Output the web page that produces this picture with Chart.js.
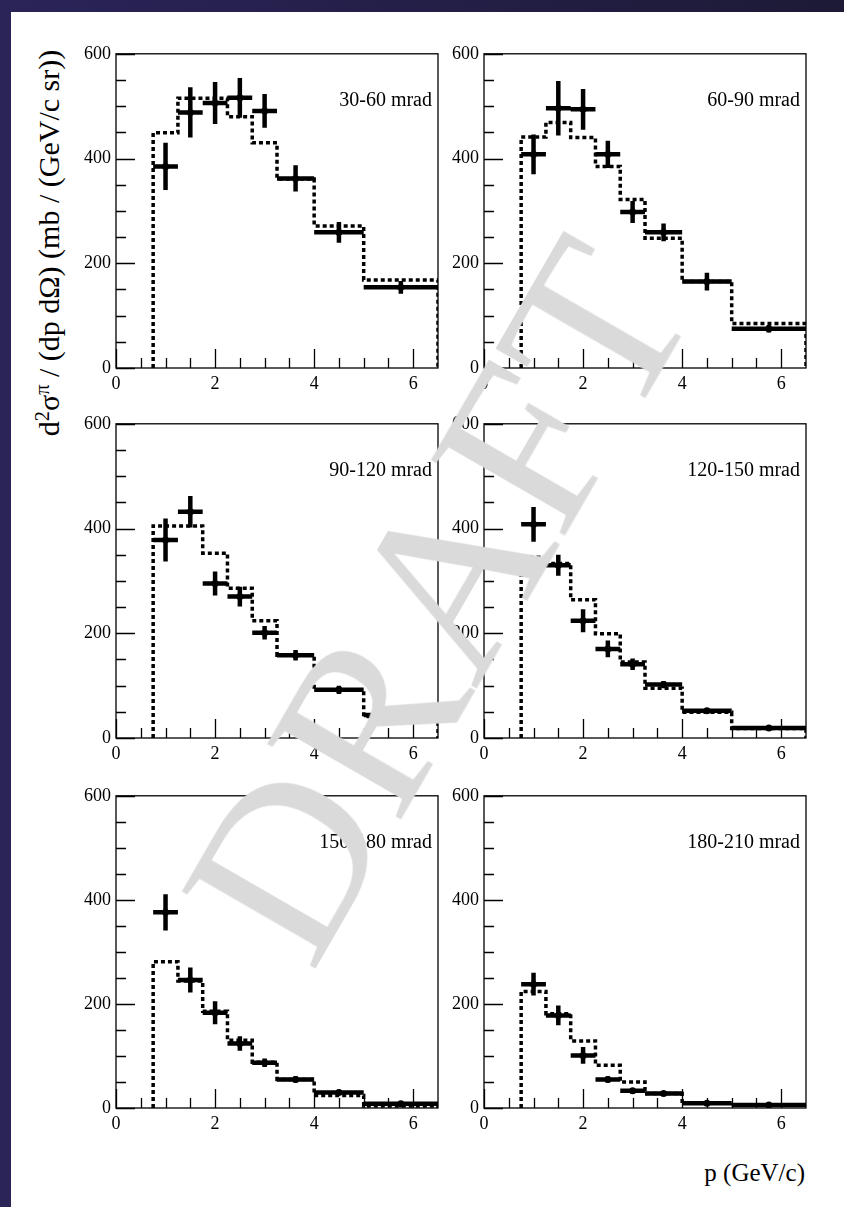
<!DOCTYPE html>
<html>
<head>
<meta charset="utf-8">
<script src="https://cdn.jsdelivr.net/npm/chart.js@4/dist/chart.umd.min.js"></script>
<style>
    html, body { margin: 0; padding: 0; }
    body { width: 844px; height: 1207px; position: relative; overflow: hidden;
           background: linear-gradient(90deg, #2a2459, #1d1a36); }
    #page { position: absolute; left: 11px; top: 12px; right: 0; bottom: 0; background: #fff; }
    canvas { position: absolute; }
    .txt { position: absolute; font-family: 'Liberation Serif', 'DejaVu Serif', serif; color: #000; white-space: nowrap; }
    sup { font-size: 68%; vertical-align: 0; position: relative; top: -0.5em; }
    #ytitle { font-size: 30px; left: 49px; top: 243px; transform: translate(-50%, -50%) rotate(-90deg); }
    #xtitle { font-size: 25px; right: 39px; top: 1159px; }
    #mark { position: absolute; left: 437px; top: 600px; font-family: 'Liberation Serif', serif;
            font-size: 236px; line-height: 1; color: #dadada; white-space: nowrap;
            transform: translate(-50%, -50%) rotate(-60deg); pointer-events: none; }
</style>
</head>
<body>
<div id="page"></div>
<div id="panels"></div>
<div class="txt" id="ytitle">d<sup>2</sup>σ<sup>π</sup> / (dp dΩ) (mb / (GeV/c sr))</div>
<div class="txt" id="xtitle">p (GeV/c)</div>
<div id="mark">DRAFT</div>
<script>
/* ── Data ── */

const P_EDGES   = [0.75, 1.25, 1.75, 2.25, 2.75, 3.25, 4, 5, 6.5];
const P_CENTERS = [1.0, 1.5, 2.0, 2.5, 3.0, 3.625, 4.5, 5.75];

const X_TICKS = [0, 2, 4, 6];
const X_MINOR = [0.5, 1, 1.5, 2.5, 3, 3.5, 4.5, 5, 5.5];
const Y_TICKS = [0, 200, 400, 600];
const Y_MINOR = [50, 100, 150, 250, 300, 350, 450, 500, 550];

const ANGLE_LABELS = ['30-60 mrad', '60-90 mrad', '90-120 mrad', '120-150 mrad', '150-180 mrad', '180-210 mrad'];

const DATA_30_60   = [385, 488, 506, 516, 491, 362, 259, 154];
const ERR_30_60    = [45, 48, 40, 38, 32, 25, 20, 12];
const MC_30_60     = [449, 515, 515, 480, 430, 361, 271, 168];

const DATA_60_90   = [408, 496, 494, 408, 298, 259, 165, 75];
const ERR_60_90    = [38, 52, 39, 26, 21, 17, 17, 7];
const MC_60_90     = [441, 469, 440, 385, 322, 248, 165, 85];

const DATA_90_120  = [378, 432, 295, 270, 201, 158, 92, 44];
const ERR_90_120   = [41, 30, 23, 19, 13, 10, 8, 5];
const MC_90_120    = [405, 405, 353, 286, 224, 158, 91, 41];

const DATA_120_150 = [408, 330, 224, 170, 141, 102, 52, 19];
const ERR_120_150  = [33, 20, 22, 16, 11, 7, 5, 3];
const MC_120_150   = [345, 333, 264, 199, 145, 95, 49, 18];

const DATA_150_180 = [376, 246, 183, 124, 87, 55, 30, 8];
const ERR_150_180  = [35, 24, 22, 14, 8, 6, 5, 3];
const MC_150_180   = [281, 244, 186, 130, 88, 55, 24, 4];

const DATA_180_210 = [238, 178, 101, 55, 33, 28, 9, 6];
const ERR_180_210  = [22, 19, 16, 6, 5, 4, 3, 2];
const MC_180_210   = [224, 181, 129, 82, 50, 28, 9, 6];

const PANELS = [
    { label: ANGLE_LABELS[0], data: DATA_30_60,   err: ERR_30_60,   mc: MC_30_60 },
    { label: ANGLE_LABELS[1], data: DATA_60_90,   err: ERR_60_90,   mc: MC_60_90 },
    { label: ANGLE_LABELS[2], data: DATA_90_120,  err: ERR_90_120,  mc: MC_90_120 },
    { label: ANGLE_LABELS[3], data: DATA_120_150, err: ERR_120_150, mc: MC_120_150 },
    { label: ANGLE_LABELS[4], data: DATA_150_180, err: ERR_150_180, mc: MC_150_180 },
    { label: ANGLE_LABELS[5], data: DATA_180_210, err: ERR_180_210, mc: MC_180_210 },
];

/* ── Layout (frame of each plot, page px) ── */

const COL_LEFT = [116, 484];
const COL_W    = 322;
const ROW_TOP  = [50, 420, 792];
const ROW_H    = [318, 318, 316];
const PAD_L = 45, PAD_T = 12, PAD_R = 10, PAD_B = 28;

Chart.defaults.font.family = "'Liberation Serif', 'DejaVu Serif', serif";
Chart.defaults.font.size   = 18;
Chart.defaults.color       = '#000';

// frame, inner ticks and the angle label
const framePlugin = {
    id: 'frame',
    afterDraw(chart) {
        const { ctx, chartArea: a, scales: { x, y } } = chart;
        ctx.save();
        ctx.strokeStyle = '#000';
        ctx.lineWidth = 1.3;
        ctx.strokeRect(a.left, a.top, a.right - a.left, a.bottom - a.top);
        ctx.beginPath();
        X_TICKS.concat(X_MINOR).forEach(v => {
            const px = Math.round(x.getPixelForValue(v)) + 0.5;
            const len = X_TICKS.includes(v) ? 19 : 10;
            ctx.moveTo(px, a.bottom);
            ctx.lineTo(px, a.bottom - len);
        });
        Y_TICKS.concat(Y_MINOR).forEach(v => {
            const py = Math.round(y.getPixelForValue(v)) + 0.5;
            const len = Y_TICKS.includes(v) ? 19 : 10;
            ctx.moveTo(a.left, py);
            ctx.lineTo(a.left + len, py);
        });
        ctx.stroke();
        ctx.fillStyle = '#000';
        ctx.font = "20px 'Liberation Serif', serif";
        ctx.textAlign = 'right';
        ctx.textBaseline = 'alphabetic';
        ctx.fillText(chart.options.plugins.frame.label, a.right - 6, a.top + 52);
        ctx.restore();
    },
};

function hBars(vals) {
    const out = [];
    vals.forEach((v, i) => {
        out.push({ x: P_EDGES[i], y: v }, { x: P_EDGES[i + 1], y: v }, { x: P_EDGES[i + 1], y: null });
    });
    return out;
}

function vBars(vals, errs) {
    const out = [];
    vals.forEach((v, i) => {
        const c = P_CENTERS[i];
        out.push({ x: c, y: v - errs[i] }, { x: c, y: v + errs[i] }, { x: c, y: null });
    });
    return out;
}

// bin contents as a histogram outline: each value holds from its lower edge to the next one
function mcSteps(mc) {
    const pts = [{ x: P_EDGES[0], y: 0 }];
    mc.forEach((v, i) => pts.push({ x: P_EDGES[i], y: v }));
    pts.push({ x: P_EDGES[P_EDGES.length - 1], y: mc[mc.length - 1] });
    pts.push({ x: P_EDGES[P_EDGES.length - 1], y: 0 });
    return pts;
}

const holder = document.getElementById('panels');

PANELS.forEach((p, k) => {
    const col = k % 2, row = Math.floor(k / 2);
    const canvas = document.createElement('canvas');
    const w = PAD_L + COL_W + PAD_R;
    const h = PAD_T + ROW_H[row] + PAD_B;
    canvas.width = w; canvas.height = h;
    canvas.style.left = (COL_LEFT[col] - PAD_L) + 'px';
    canvas.style.top  = (ROW_TOP[row] - PAD_T) + 'px';
    holder.appendChild(canvas);

    const errLine = {
        type: 'line', showLine: true, spanGaps: false,
        borderColor: '#000', borderWidth: 4.5, borderCapStyle: 'butt',
        pointRadius: 0, fill: false, order: 1,
    };

    new Chart(canvas.getContext('2d'), {
        type: 'line',
        data: {
            datasets: [
                {
                    label: 'MC',
                    data: mcSteps(p.mc),
                    stepped: 'before',
                    borderColor: '#000',
                    borderWidth: 3.5,
                    borderDash: [4, 3],
                    borderCapStyle: 'butt',
                    pointRadius: 0,
                    fill: false,
                    order: 3,
                },
                { ...errLine, label: 'bin', data: hBars(p.data) },
                { ...errLine, label: 'err', data: vBars(p.data, p.err) },
                {
                    label: 'data',
                    type: 'scatter',
                    data: p.data.map((v, i) => ({ x: P_CENTERS[i], y: v })),
                    pointRadius: 3.5,
                    pointBackgroundColor: '#000',
                    pointBorderWidth: 0,
                    showLine: false,
                    order: 0,
                },
            ],
        },
        options: {
            responsive: false,
            animation: false,
            events: [],
            layout: { padding: { top: PAD_T, right: PAD_R, left: 0, bottom: 0 } },
            scales: {
                x: {
                    type: 'linear', min: 0, max: 6.5,
                    grid: { display: false, drawTicks: false },
                    border: { display: false },
                    ticks: { padding: 5, maxRotation: 0 },
                    afterBuildTicks: s => { s.ticks = X_TICKS.map(v => ({ value: v })); },
                    afterFit: s => { s.height = PAD_B; },
                },
                y: {
                    type: 'linear', min: 0, max: 600,
                    grid: { display: false, drawTicks: false },
                    border: { display: false },
                    ticks: { padding: 5 },
                    afterBuildTicks: s => { s.ticks = Y_TICKS.map(v => ({ value: v })); },
                    afterFit: s => { s.width = PAD_L; },
                },
            },
            plugins: {
                legend: { display: false },
                tooltip: { enabled: false },
                frame: { label: p.label },
            },
        },
        plugins: [framePlugin],
    });
});
</script>
</body>
</html>
